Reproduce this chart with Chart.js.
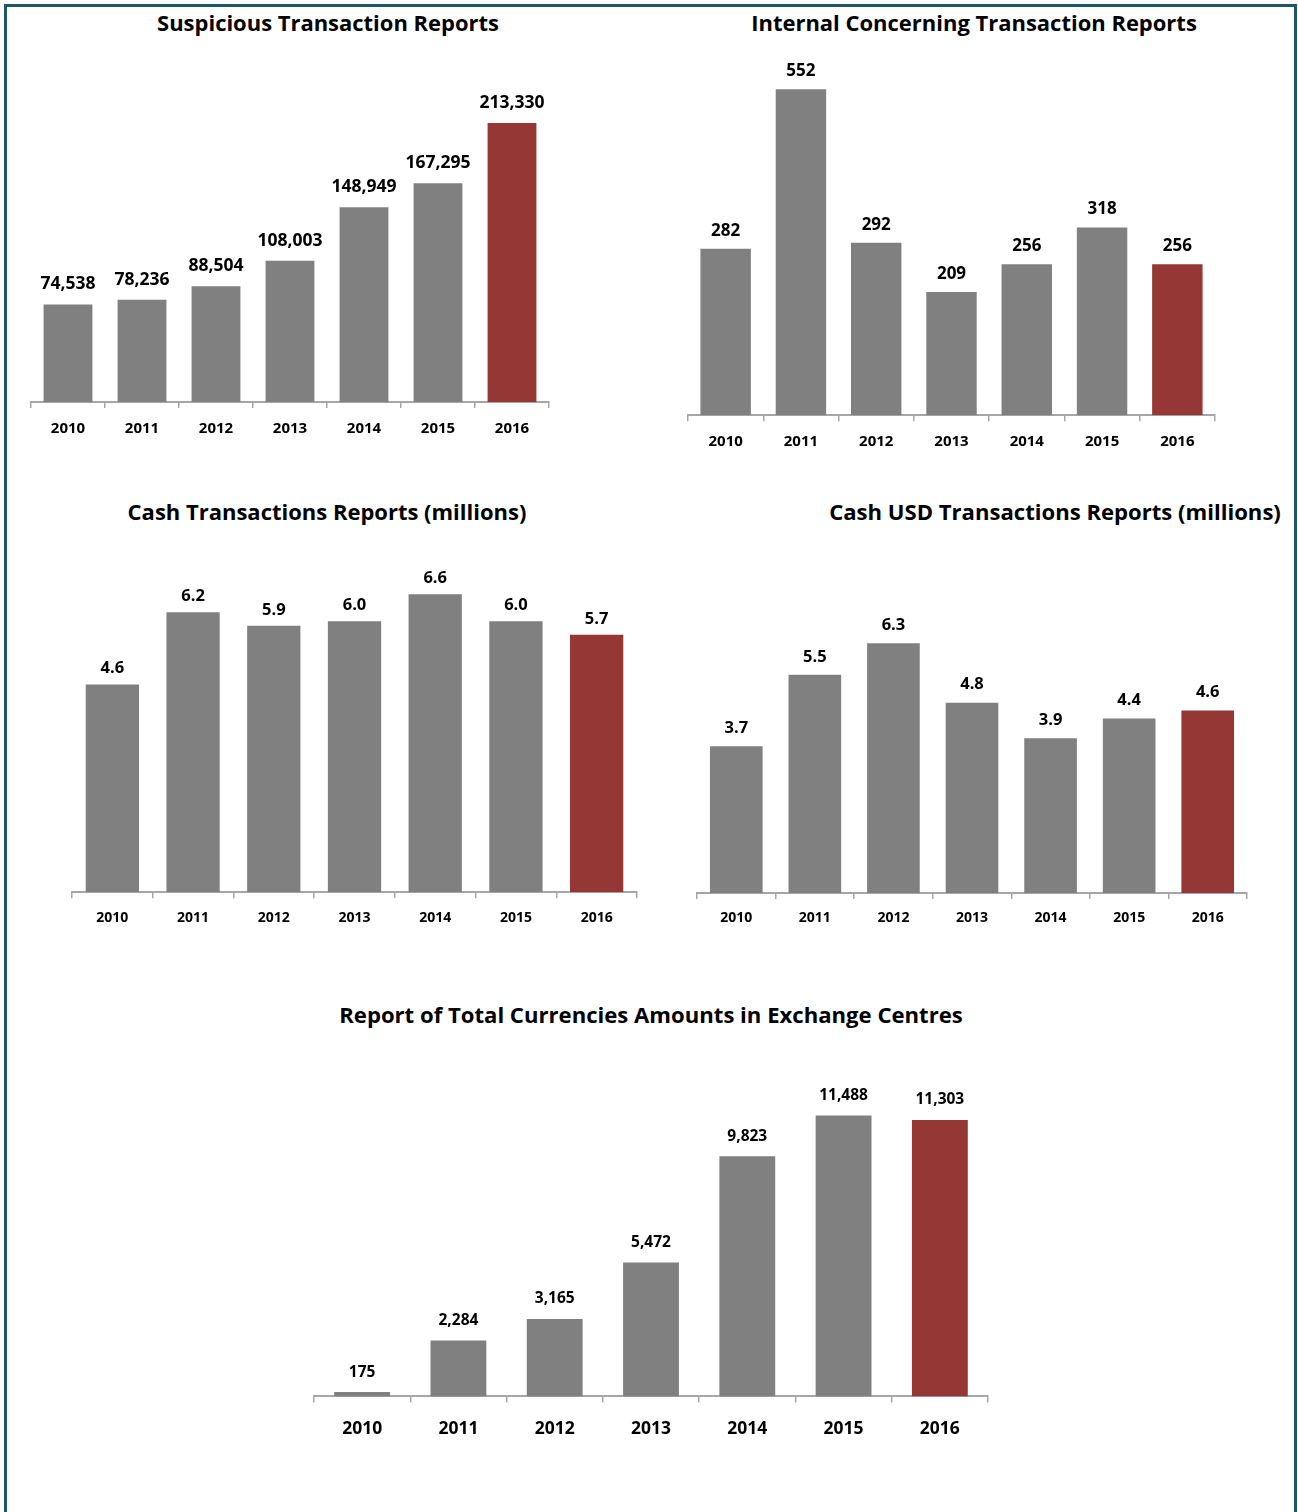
<!DOCTYPE html>
<html>
<head>
<meta charset="utf-8">
<script src="https://cdn.jsdelivr.net/npm/chart.js@4"></script>
<style>
  html, body { margin: 0; padding: 0; background: #fff; }
  body { width: 1298px; height: 1512px; position: relative; overflow: hidden; font-family: "Open Sans", Lato, sans-serif; }
  .frame { position: absolute; left: 4px; top: 4px; width: 1287px; height: 1530px; border: 3px solid #1e5868; }
  .title { position: absolute; font-weight: bold; font-size: 22px; color: #000; white-space: nowrap; transform: translate(-50%, -50%); line-height: 1; }
  .box { position: absolute; }
</style>
</head>
<body>
<div class="frame"></div>

<div class="title" data-w="342" style="left:328px; top:23px;">Suspicious Transaction Reports</div>
<div class="title" data-w="446" style="left:974px; top:23px;">Internal Concerning Transaction Reports</div>
<div class="title" data-w="399" style="left:327px; top:511px;">Cash Transactions Reports (millions)</div>
<div class="title" data-w="452" style="left:1055px; top:511px;">Cash USD Transactions Reports (millions)</div>
<div class="title" data-w="624" style="left:651px; top:1014px;">Report of Total Currencies Amounts in Exchange Centres</div>

<div class="box" id="b1"><canvas id="c1"></canvas></div>
<div class="box" id="b2"><canvas id="c2"></canvas></div>
<div class="box" id="b3"><canvas id="c3"></canvas></div>
<div class="box" id="b4"><canvas id="c4"></canvas></div>
<div class="box" id="b5"><canvas id="c5"></canvas></div>

<script>
var years = ['2010', '2011', '2012', '2013', '2014', '2015', '2016'];

var strReports = [74538, 78236, 88504, 108003, 148949, 167295, 213330];
var ictrReports = [282, 552, 292, 209, 256, 318, 256];
var cashReports = [4.6, 6.2, 5.9, 6.0, 6.6, 6.0, 5.7];
var cashUsdReports = [3.7, 5.5, 6.3, 4.8, 3.9, 4.4, 4.6];
var exchangeReports = [175, 2284, 3165, 5472, 9823, 11488, 11303];

var grey = '#808080';
var red = '#953735';
var fontFamily = '"Open Sans", Lato, sans-serif';

// size the titles so they span the same width as in the report
document.querySelectorAll('.title').forEach(function (el) {
    var w = el.getBoundingClientRect().width;
    el.style.fontSize = (22 * el.dataset.w / w) + 'px';
});

function fmtInt(v) { return v.toLocaleString('en-US'); }
function fmtOne(v) { return v.toFixed(1); }

// draws the value above every bar
var valueLabels = {
    id: 'valueLabels',
    afterDatasetsDraw: function (chart, args, opts) {
        var ctx = chart.ctx;
        var meta = chart.getDatasetMeta(0);
        var data = chart.data.datasets[0].data;
        ctx.save();
        ctx.font = 'bold ' + opts.size + 'px ' + fontFamily;
        ctx.fillStyle = '#000';
        ctx.textAlign = 'center';
        ctx.textBaseline = 'middle';
        meta.data.forEach(function (bar, i) {
            ctx.fillText(opts.format(data[i]), bar.x, bar.y - opts.offset);
        });
        ctx.restore();
    }
};

function makeChart(id, values, g) {
    var pad = 40;
    var plotTop = g.axisY - g.max * g.px;
    var box = document.getElementById('b' + id);
    box.style.left = (g.x0 - pad) + 'px';
    box.style.top = plotTop + 'px';
    box.style.width = (g.x1 - g.x0 + 2 * pad) + 'px';
    box.style.height = (g.axisY - plotTop + g.axisH) + 'px';

    return new Chart(document.getElementById('c' + id), {
        type: 'bar',
        data: {
            labels: years,
            datasets: [{
                data: values,
                backgroundColor: years.map(function (y, i) { return i === years.length - 1 ? red : grey; }),
                borderWidth: 0,
                categoryPercentage: 1,
                barPercentage: g.bar
            }]
        },
        options: {
            responsive: true,
            maintainAspectRatio: false,
            animation: false,
            layout: { padding: { left: pad, right: pad, top: 0, bottom: 0 } },
            plugins: {
                legend: { display: false },
                tooltip: { enabled: false },
                valueLabels: { size: g.label, offset: g.offset, format: g.format }
            },
            scales: {
                y: { display: false, min: 0, max: g.max },
                x: {
                    afterFit: function (s) { s.height = g.axisH; },
                    grid: {
                        drawOnChartArea: false,
                        drawTicks: true,
                        tickLength: 6,
                        color: '#a6a6a6',
                        lineWidth: 1.5
                    },
                    border: { display: true, color: '#a6a6a6', width: 2 },
                    ticks: {
                        color: '#000',
                        padding: g.tickPad,
                        font: { family: fontFamily, size: g.tick, weight: 'bold' }
                    }
                }
            }
        },
        plugins: [valueLabels]
    });
}

makeChart(1, strReports, { x0: 31, x1: 549, axisY: 402, px: 279 / 213330, max: 250000, bar: 0.66, label: 17.5, offset: 20, format: fmtInt, tick: 15, tickPad: 12, axisH: 50 });
makeChart(2, ictrReports, { x0: 688, x1: 1215, axisY: 415, px: 326 / 552, max: 600, bar: 0.67, label: 17, offset: 18, format: fmtInt, tick: 15, tickPad: 11, axisH: 50 });
makeChart(3, cashReports, { x0: 72, x1: 637, axisY: 892, px: 298 / 6.6, max: 8, bar: 0.66, label: 16.5, offset: 16, format: fmtOne, tick: 14, tickPad: 11, axisH: 50 });
makeChart(4, cashUsdReports, { x0: 697, x1: 1247, axisY: 893, px: 250 / 6.3, max: 9, bar: 0.67, label: 16.5, offset: 18, format: fmtOne, tick: 14, tickPad: 11, axisH: 50 });
makeChart(5, exchangeReports, { x0: 314, x1: 988, axisY: 1396, px: 281 / 11488, max: 14000, bar: 0.58, label: 15.5, offset: 20, format: fmtInt, tick: 17.5, tickPad: 16, axisH: 60 });
</script>
</body>
</html>
